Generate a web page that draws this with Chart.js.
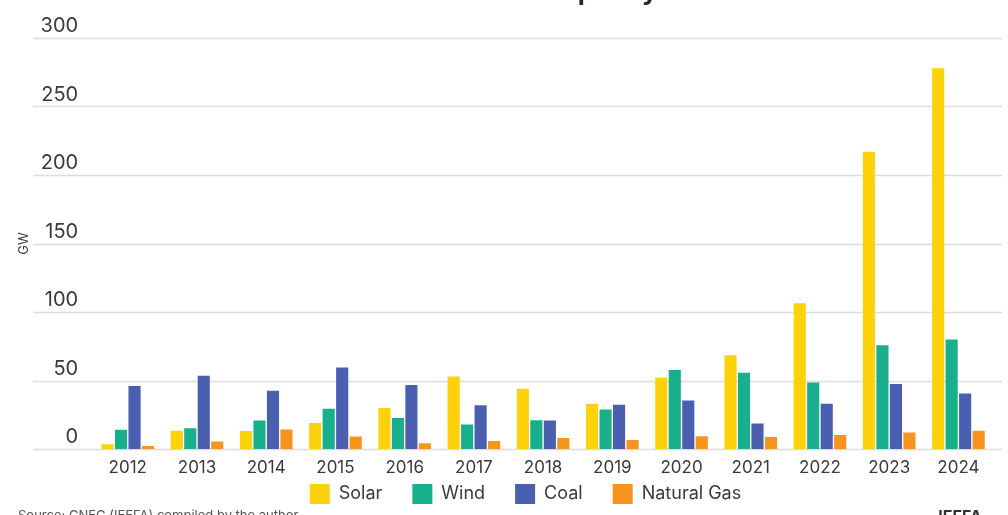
<!DOCTYPE html>
<html>
<head>
<meta charset="utf-8">
<script src="https://cdn.jsdelivr.net/npm/chart.js@4.4.1/dist/chart.umd.min.js"></script>
<style>
  html, body { margin: 0; padding: 0; background: #fff; }
  #wrap { width: 1008px; height: 515px; position: relative; }
</style>
</head>
<body>
<div id="wrap"><canvas id="chart"></canvas></div>
<script>
// data (GW)
const years = ['2012', '2013', '2014', '2015', '2016', '2017', '2018', '2019', '2020', '2021', '2022', '2023', '2024'];
const solar = [3.4, 13.4, 13.2, 19, 30, 53, 44, 33, 52, 68.5, 106.4, 217, 278];
const wind = [14, 15.2, 20.8, 29.3, 22.7, 17.8, 21, 28.8, 57.7, 55.7, 48.6, 75.8, 80];
const coal = [46, 53.5, 42.5, 59.4, 46.7, 32, 20.8, 32.3, 35.4, 18.6, 33, 47.5, 40.6];
const gas = [2.2, 5.4, 14.2, 9.1, 4.2, 5.9, 8, 6.6, 9.3, 8.8, 10.3, 12, 13.4];
const yTicks = [0, 50, 100, 150, 200, 250, 300];

const FONT = 'Inter, "Noto Sans", sans-serif';
const TEXT = '#3a3a3a';

// horizontal grid lines run wider than the plot area, under the labels
const gridPlugin = {
    id: 'wideGrid',
    beforeDatasetsDraw(chart) {
        const ctx = chart.ctx;
        const y = chart.scales.y;
        ctx.save();
        ctx.strokeStyle = '#dcdcdc';
        ctx.lineWidth = 1.5;
        yTicks.forEach(v => {
            const py = Math.round(y.getPixelForValue(v)) + 0.5;
            ctx.beginPath();
            ctx.moveTo(33, py);
            ctx.lineTo(1002, py);
            ctx.stroke();
        });
        ctx.restore();
    }
};

// after layout: move the legend a bit right, and give the squeezed
// x axis room again so its labels are not clipped
const layoutTweaks = {
    id: 'layoutTweaks',
    afterLayout(chart) {
        chart._tweaked = false;
    },
    beforeDraw(chart) {
        if (chart._tweaked) return;
        const lg = chart.legend;
        if (lg) {
            lg.left += 24;
            lg.right += 24;
            lg.adjustHitBoxes();
        }
        chart.scales.x.bottom += 30;
        chart._tweaked = true;
    }
};

// cut-off title at top and notes at bottom
const textPlugin = {
    id: 'extraText',
    afterDraw(chart) {
        const ctx = chart.ctx;
        ctx.save();
        ctx.fillStyle = '#1f2a36';
        ctx.font = 'bold 26px ' + FONT;
        ctx.textAlign = 'center';
        ctx.textBaseline = 'alphabetic';
        ctx.fillText("China's Annual Power Capacity Additions", 522, 0);
        ctx.fillStyle = '#555';
        ctx.font = '13px ' + FONT;
        ctx.textAlign = 'left';
        ctx.textBaseline = 'top';
        ctx.fillText('Source: CNEC (IEEFA) compiled by the author', 18, 510);
        ctx.fillStyle = '#333';
        ctx.font = 'bold 16px ' + FONT;
        ctx.textAlign = 'right';
        ctx.fillText('IEEFA', 982, 509);
        ctx.restore();
    }
};

new Chart(document.getElementById('chart'), {
    type: 'bar',
    data: {
        labels: years,
        datasets: [
            { label: 'Solar', data: solar, backgroundColor: '#FDD20A' },
            { label: 'Wind', data: wind, backgroundColor: '#18B08C' },
            { label: 'Coal', data: coal, backgroundColor: '#4A5FAF' },
            { label: 'Natural Gas', data: gas, backgroundColor: '#F7941D' }
        ]
    },
    options: {
        responsive: true,
        maintainAspectRatio: false,
        animation: false,
        datasets: {
            bar: { categoryPercentage: 0.78, barPercentage: 0.9 }
        },
        layout: { padding: { top: 38, right: 15, bottom: 1, left: 10 } },
        scales: {
            x: {
                grid: { display: false },
                border: { display: false },
                ticks: { color: TEXT, font: { family: FONT, size: 17 }, padding: 1 },
                // let the year labels hang into the legend's top padding
                afterFit(scale) { scale.height = 5; }
            },
            y: {
                min: 0,
                max: 300,
                grid: { display: false },
                border: { display: false },
                ticks: {
                    stepSize: 50,
                    color: TEXT,
                    font: { family: FONT, size: 20 },
                    labelOffset: -12,
                    padding: 7
                },
                title: {
                    display: true,
                    text: 'GW',
                    color: TEXT,
                    font: { family: FONT, size: 13 },
                    padding: { top: 6, bottom: 2 }
                }
            }
        },
        plugins: {
            legend: {
                position: 'bottom',
                labels: {
                    boxWidth: 20,
                    boxHeight: 20,
                    padding: 30,
                    color: TEXT,
                    font: { family: FONT, size: 18 }
                }
            },
            tooltip: { enabled: false }
        }
    },
    plugins: [gridPlugin, layoutTweaks, textPlugin]
});
</script>
</body>
</html>
